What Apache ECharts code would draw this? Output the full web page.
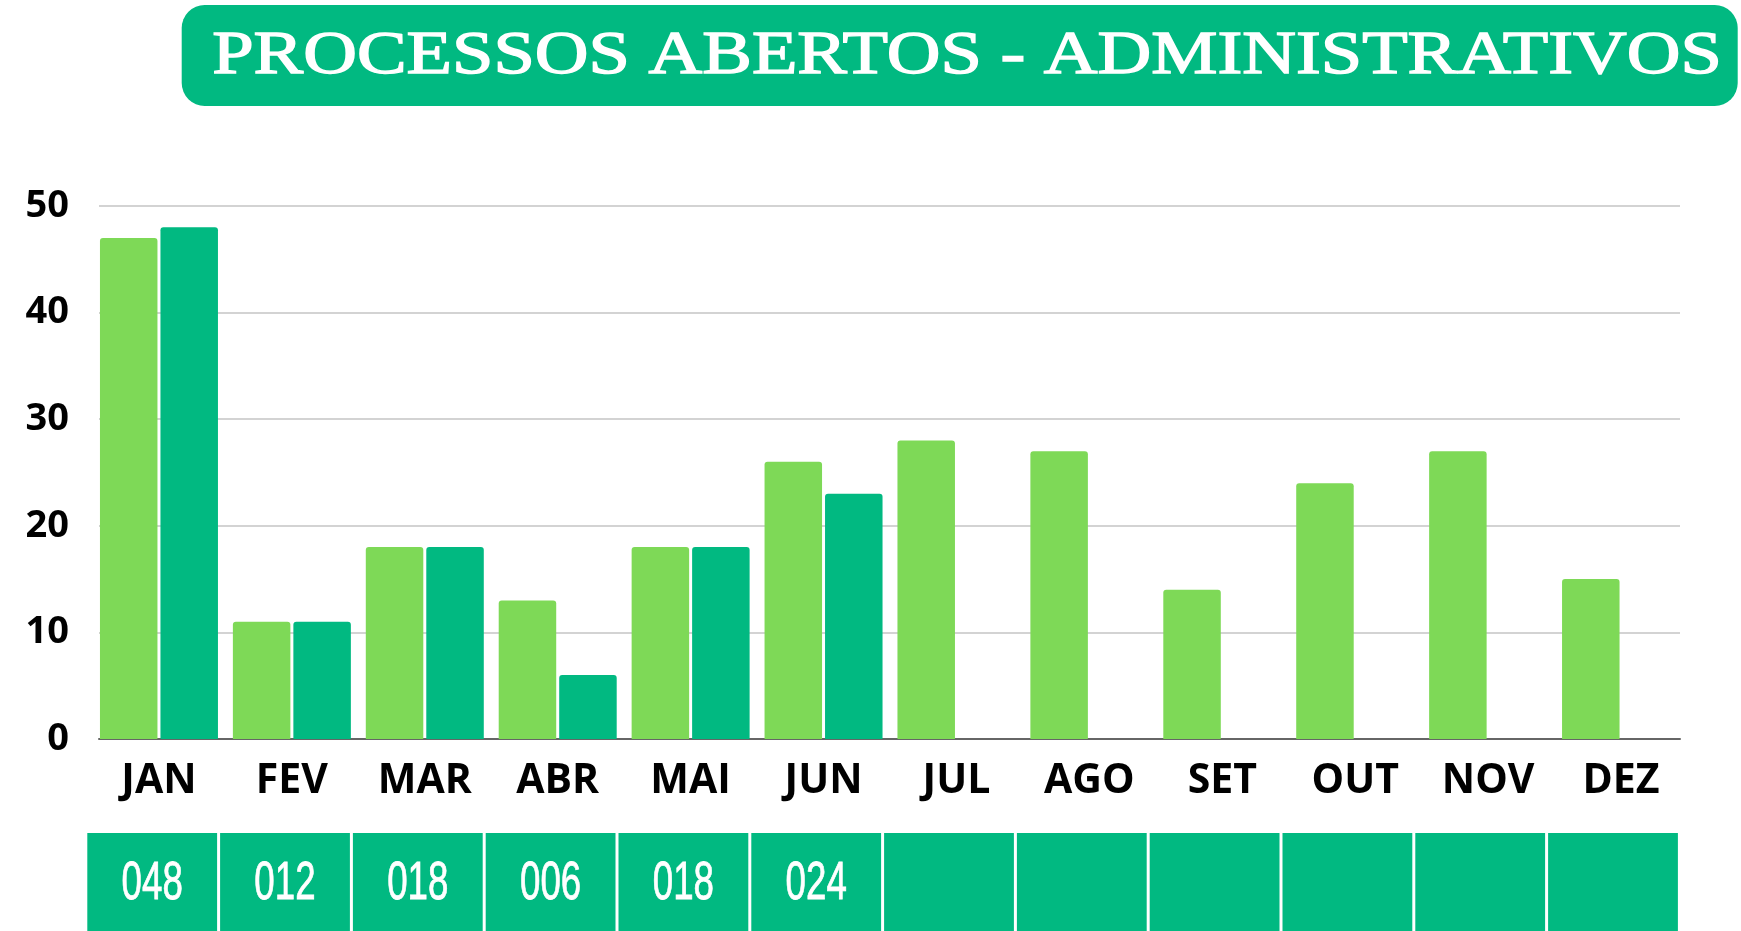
<!DOCTYPE html>
<html>
<head>
<meta charset="utf-8">
<title>Processos Abertos - Administrativos</title>
<script src="https://cdn.jsdelivr.net/npm/echarts@6/dist/echarts.min.js"></script>
<style>
    html, body { margin: 0; padding: 0; background: #fff; }
    #chart { width: 1741px; height: 931px; }
</style>
</head>
<body>
<div id="chart"></div>
<script>
var titleText = 'PROCESSOS ABERTOS - ADMINISTRATIVOS';
var months = ['JAN', 'FEV', 'MAR', 'ABR', 'MAI', 'JUN', 'JUL', 'AGO', 'SET', 'OUT', 'NOV', 'DEZ'];
var serieClara = [47, 11, 18, 13, 18, 26, 28, 27, 14, 24, 27, 15];
var serieEscura = [48, 11, 18, 6, 18, 23, null, null, null, null, null, null];
var totais = ['048', '012', '018', '006', '018', '024', '', '', '', '', '', ''];
var yTicks = [0, 10, 20, 30, 40, 50];

var verdeClaro = '#7ed957';
var verdeEscuro = '#01b981';

var chart = echarts.init(document.getElementById('chart'));

// grid 0: linhas de grade e eixo y, grid 1: barras, grid 2: tabela de totais
var option = {
    animation: false,
    backgroundColor: '#ffffff',
    grid: [
        {left: 99, width: 1581, top: 206, height: 533},
        {left: 92.5, width: 1595, top: 206, height: 533},
        {left: 87.3, width: 1593.6, top: 833, height: 110}
    ],
    xAxis: [
        {
            gridIndex: 0,
            type: 'category',
            data: months,
            axisLine: {show: true, lineStyle: {color: '#666666', width: 2}},
            axisTick: {show: false},
            axisLabel: {show: false},
            splitLine: {show: false}
        },
        {
            gridIndex: 1,
            type: 'category',
            data: months,
            axisLine: {show: false},
            axisTick: {show: false},
            axisLabel: {
                margin: 22,
                color: '#000000',
                fontFamily: 'Open Sans',
                fontWeight: 'bold',
                fontSize: 41
            }
        },
        {
            gridIndex: 2,
            type: 'category',
            data: months,
            show: false
        }
    ],
    yAxis: [
        {
            gridIndex: 0,
            type: 'value',
            min: yTicks[0],
            max: yTicks[yTicks.length - 1],
            interval: 10,
            axisLine: {show: false},
            axisTick: {show: false},
            axisLabel: {
                margin: 30,
                color: '#000000',
                fontFamily: 'Open Sans',
                fontWeight: 'bold',
                fontSize: 38
            },
            splitLine: {lineStyle: {color: '#c4c4c4', width: 1.5}}
        },
        {
            gridIndex: 1,
            type: 'value',
            min: yTicks[0],
            max: yTicks[yTicks.length - 1],
            show: false
        },
        {
            gridIndex: 2,
            type: 'value',
            min: 0,
            max: 1,
            show: false
        }
    ],
    series: [
        {
            name: 'Série 1',
            type: 'bar',
            xAxisIndex: 1,
            yAxisIndex: 1,
            data: serieClara,
            barWidth: 57.5,
            barGap: '5.2%',
            itemStyle: {color: verdeClaro, borderRadius: [3, 3, 0, 0]}
        },
        {
            name: 'Série 2',
            type: 'bar',
            xAxisIndex: 1,
            yAxisIndex: 1,
            data: serieEscura,
            barWidth: 57.5,
            barGap: '5.2%',
            itemStyle: {color: verdeEscuro, borderRadius: [3, 3, 0, 0]}
        },
        {
            name: 'Totais',
            type: 'custom',
            xAxisIndex: 2,
            yAxisIndex: 2,
            data: totais.map(function (t, i) { return [i, t]; }),
            encode: {x: 0},
            renderItem: function (params, api) {
                var idx = api.value(0);
                var centro = api.coord([idx, 0]);
                var topo = api.coord([idx, 1]);
                var banda = api.size([1, 0])[0];
                var inicio = centro[0] - banda / 2;
                var texto = totais[idx];
                return {
                    type: 'group',
                    children: [
                        {
                            type: 'rect',
                            shape: {x: inicio, y: topo[1], width: banda - 3, height: centro[1] - topo[1]},
                            style: {fill: verdeEscuro}
                        },
                        {
                            type: 'text',
                            x: inicio + (banda - 3) / 2,
                            y: 884,
                            scaleX: 0.68,
                            style: {
                                text: texto,
                                fill: '#ffffff',
                                stroke: '#ffffff',
                                lineWidth: 0.8,
                                font: '54px "Liberation Sans"',
                                align: 'center',
                                verticalAlign: 'middle'
                            }
                        }
                    ]
                };
            }
        }
    ],
    graphic: [
        {
            type: 'rect',
            left: 181.7,
            top: 5,
            shape: {width: 1556, height: 101, r: 23},
            style: {fill: verdeEscuro},
            z: 10
        },
        {
            type: 'text',
            x: 967,
            y: 57,
            scaleX: 1.22,
            z: 11,
            style: {
                text: titleText,
                fill: '#ffffff',
                stroke: '#ffffff',
                lineWidth: 1.4,
                font: '61px "Liberation Serif"',
                align: 'center',
                verticalAlign: 'middle'
            }
        }
    ]
};

chart.setOption(option);
</script>
</body>
</html>
